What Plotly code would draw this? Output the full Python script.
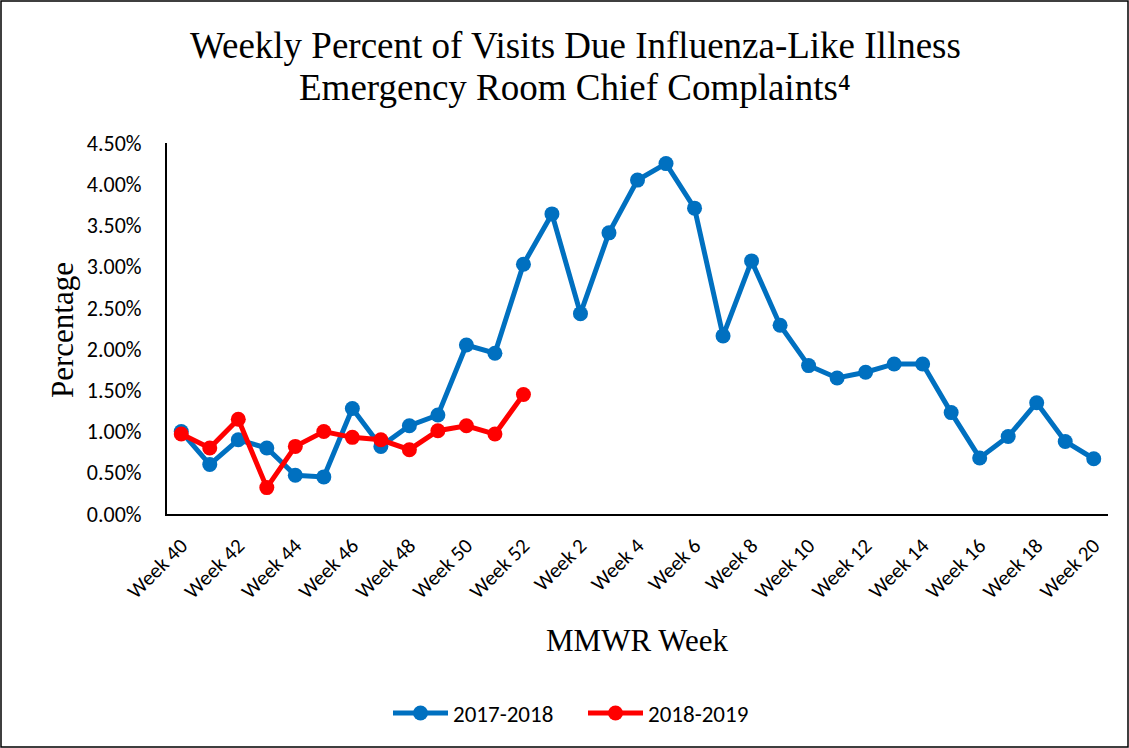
import plotly.graph_objects as go

weeks = [f"Week {w}" for w in range(40, 53)] + [f"Week {w}" for w in range(1, 21)]
season_2017 = [1.00, 0.60, 0.90, 0.80, 0.47, 0.45, 1.28, 0.82, 1.07, 1.20, 2.05, 1.95, 3.03,
               3.64, 2.43, 3.41, 4.05, 4.25, 3.71, 2.16, 3.07, 2.29, 1.80, 1.65, 1.72, 1.82,
               1.82, 1.23, 0.68, 0.94, 1.35, 0.88, 0.67]
season_2018 = [0.97, 0.80, 1.15, 0.32, 0.82, 1.00, 0.93, 0.90, 0.78, 1.01, 1.07, 0.97, 1.45]
tick_labels = weeks[::2]

W, H = 1129, 748
L, R, T, B = 167, 21, 143, 234
PW, PH = W - L - R, H - T - B


def px(x):
    return (x - L) / PW


def py(y):
    return (H - B - y) / PH


fig = go.Figure()
fig.add_trace(go.Scatter(x=weeks, y=[v / 100 for v in season_2017], name="2017-2018",
                         mode="lines+markers", line=dict(color="#0070C0", width=5),
                         marker=dict(size=15, color="#0070C0")))
fig.add_trace(go.Scatter(x=weeks[:len(season_2018)], y=[v / 100 for v in season_2018],
                         name="2018-2019", mode="lines+markers",
                         line=dict(color="#FF0000", width=5),
                         marker=dict(size=15, color="#FF0000")))

sans = "Calibri, Carlito, Lato, sans-serif"
tick_font = dict(family=sans, size=21, color="#000")
fig.update_layout(
    width=W, height=H,
    margin=dict(l=L, r=R, t=T, b=B),
    paper_bgcolor="white", plot_bgcolor="white",
    showlegend=True,
    legend=dict(orientation="h", x=px(583), xanchor="center",
                y=py(713), yanchor="middle", font=dict(family=sans, size=23, color="#000"),
                itemwidth=55, entrywidth=125),
    xaxis=dict(type="category", categoryorder="array", categoryarray=weeks,
               tickmode="array", tickvals=tick_labels, ticktext=tick_labels,
               tickangle=-45, tickfont=tick_font, showgrid=False,
               showline=True, linecolor="#000", linewidth=2, ticks="",
               ticklabelstandoff=9, range=[-0.5, len(weeks) - 0.5]),
    yaxis=dict(range=[0, 0.045], tickmode="linear", tick0=0, dtick=0.005,
               tickformat=".2%", tickfont=dict(family=sans, size=22, color="#000"),
               showgrid=False, showline=True, linecolor="#000", linewidth=2, ticks="",
               ticklabelstandoff=19, zeroline=False),
)

serif = "Times New Roman, Liberation Serif, serif"
fig.add_annotation(text="Weekly Percent of Visits Due Influenza-Like Illness",
                   xref="paper", yref="paper", x=px(575), y=py(45),
                   xanchor="center", yanchor="middle", showarrow=False,
                   font=dict(family=serif, size=37, color="#000"))
fig.add_annotation(text="Emergency Room Chief Complaints⁴",
                   xref="paper", yref="paper", x=px(575), y=py(88),
                   xanchor="center", yanchor="middle", showarrow=False,
                   font=dict(family=serif, size=37, color="#000"))
fig.add_annotation(text="Percentage", xref="paper", yref="paper",
                   x=px(62), y=py(330),
                   xanchor="center", yanchor="middle", textangle=-90, showarrow=False,
                   font=dict(family=serif, size=31, color="#000"))
fig.add_annotation(text="MMWR Week", xref="paper", yref="paper",
                   x=px(637), y=py(640),
                   xanchor="center", yanchor="middle", showarrow=False,
                   font=dict(family=serif, size=31, color="#000"))
fig.add_shape(type="rect", xref="paper", yref="paper",
              x0=px(1), x1=px(W - 1), y0=py(H - 1), y1=py(1),
              line=dict(color="#000", width=1.5), fillcolor="rgba(0,0,0,0)", layer="below")

fig.write_html("out.html", config={"displayModeBar": False},
               post_script="document.body.style.margin='0';")
